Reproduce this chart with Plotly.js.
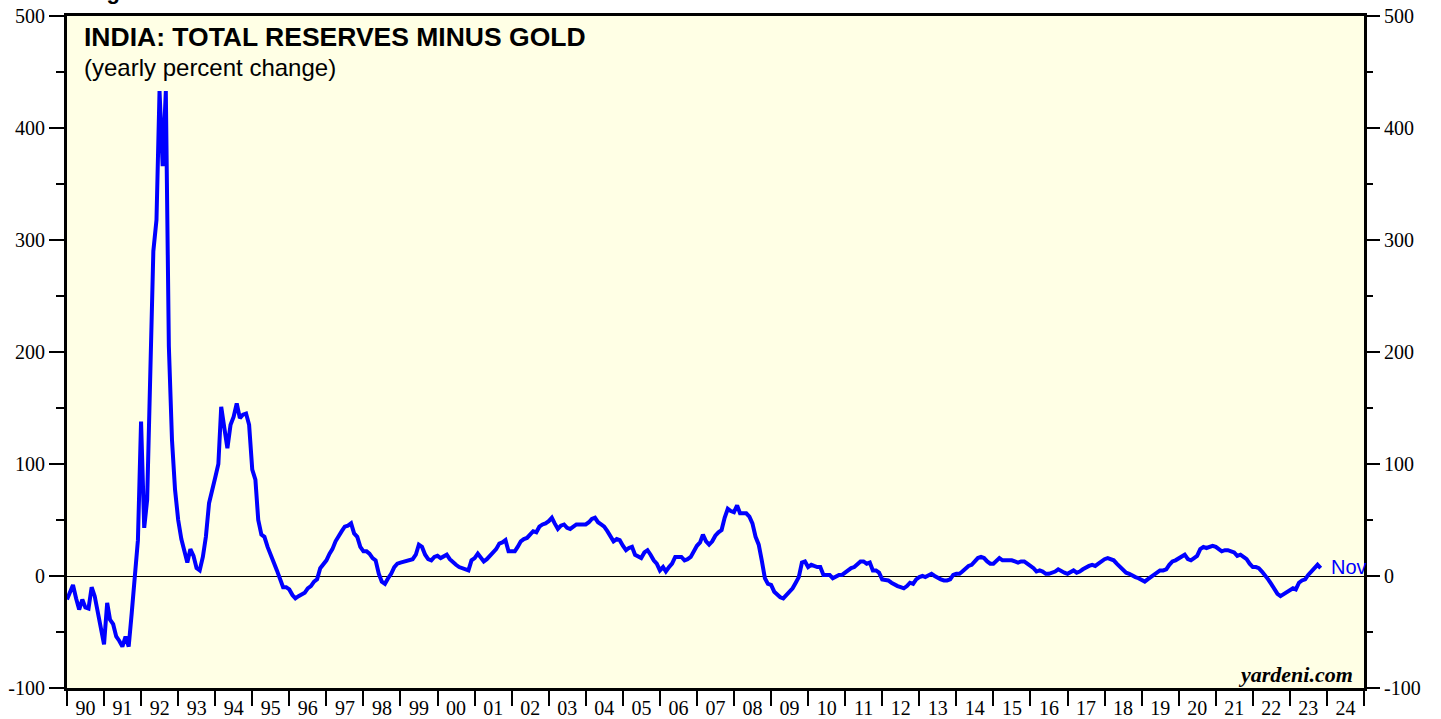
<!DOCTYPE html>
<html>
<head>
<meta charset="utf-8">
<script src="https://cdn.plot.ly/plotly-3.0.1.min.js"></script>
<style>
  html, body { margin: 0; padding: 0; background: #ffffff; }
  #chart { width: 1441px; height: 719px; }
</style>
</head>
<body>
<div id="chart"></div>
<script>
// India: total reserves minus gold, yearly percent change, monthly from Jan 1990 to Nov 2023
const startYear = 1990;
const vals1990s = [
  -21, -15, -8, -20, -30, -21, -28, -29, -10, -18, -33, -45,      // 1990
  -61, -24, -39, -43, -54, -58, -63, -54, -63, -33, 1, 32,         // 1991
  138, 43, 68, 200, 290, 318, 433, 366, 433, 205, 121, 77,        // 1992
  50, 33, 22, 12, 24, 18, 7, 5, 17, 35, 65, 78,                   // 1993
  88, 100, 151, 132, 114, 135, 142, 154, 141, 144, 145, 135,      // 1994
  95, 86, 50, 37, 35, 26, 18, 12, 5, -3, -10, -10,                // 1995
  -12, -17, -20, -18, -16, -15, -11, -9, -5, -3, 7, 11,           // 1996
  14, 20, 24, 31, 36, 40, 44, 45, 47, 38, 35, 26,                 // 1997
  22, 22, 20, 16, 14, 2, -5, -7, -2, 2, 8, 11,                    // 1998
  12, 13, 13, 14, 15, 19, 28, 26, 19, 15, 14, 17                  // 1999
];
const vals2000s = [
  18, 16, 17, 19, 15, 12, 10, 8, 7, 6, 5, 14,                     // 2000
  16, 20, 16, 13, 15, 18, 21, 24, 29, 30, 32, 22,                 // 2001
  22, 22, 26, 31, 33, 34, 37, 40, 39, 44, 46, 47,                 // 2002
  49, 52, 47, 42, 45, 46, 43, 42, 44, 46, 46, 46,                 // 2003
  46, 48, 51, 52, 48, 46, 44, 40, 36, 31, 33, 32,                 // 2004
  27, 23, 25, 26, 19, 17, 16, 21, 23, 19, 14, 11,                 // 2005
  5, 8, 4, 8, 11, 17, 17, 17, 14, 15, 17, 22,                     // 2006
  27, 30, 37, 31, 28, 31, 36, 39, 41, 52, 60, 58,                 // 2007
  57, 63, 56, 56, 56, 53, 47, 35, 28, 14, -2, -7,                 // 2008
  -8, -14, -17, -19, -20, -17, -15, -11, -6, -1, 12, 13           // 2009
];
const vals2010s = [
  8, 10, 9, 8, 8, 1, 1, 1, -2, 0, 1, 1,                           // 2010
  3, 6, 7, 8, 11, 13, 13, 11, 12, 5, 5, 3,                        // 2011
  -3, -4, -4, -6, -8, -9, -10, -11, -9, -6, -7, -3,               // 2012
  -1, 0, -1, 1, 2, 0, -2, -3, -4, -4, -3, 1,                      // 2013
  2, 2, 4, 7, 9, 10, 13, 16, 17, 16, 13, 11,                      // 2014
  11, 14, 16, 14, 14, 14, 14, 13, 12, 13, 13, 11,                 // 2015
  9, 7, 4, 5, 4, 2, 2, 3, 4, 6, 4, 3,                             // 2016
  2, 4, 5, 3, 4, 6, 8, 9, 10, 9, 11, 13,                          // 2017
  15, 16, 15, 14, 11, 8, 5, 3, 2, 0, -1, -2,                      // 2018
  -4, -5, -3, -1, 1, 3, 5, 5, 6, 10, 13, 14                       // 2019
];
const vals2020s = [
  16, 17, 19, 15, 14, 16, 18, 24, 26, 25, 26, 27,                 // 2020
  26, 24, 22, 23, 23, 22, 21, 18, 19, 17, 15, 11,                 // 2021
  8, 8, 7, 4, 1, -3, -7, -12, -16, -18, -16, -14,                 // 2022
  -12, -11, -12, -6, -4, -3, 1, 4, 8, 10, 7                       // 2023 (to Nov)
];
const lastLabel = "Nov";
const yTicks = [-100, 0, 100, 200, 300, 400, 500];
const titleText = "INDIA: TOTAL RESERVES MINUS GOLD";
const subtitleText = "(yearly percent change)";
const sourceText = "yardeni.com";

const values = [].concat(vals1990s, vals2000s, vals2010s, vals2020s);
const dates = values.map((v, i) => {
  const y = startYear + Math.floor(i / 12);
  const m = (i % 12) + 1;
  return y + "-" + String(m).padStart(2, "0") + "-01";
});
const lastDate = dates[dates.length - 1];
const lastVal = values[values.length - 1];

const serif = "Liberation Serif, Times New Roman, serif";
const sans = "Liberation Sans, Arial, Helvetica, sans-serif";

const traces = [
  {
    x: dates, y: values, type: "scatter", mode: "lines",
    line: { color: "#0000ff", width: 4 },
    hoverinfo: "x+y", yaxis: "y"
  },
  {
    x: dates, y: values, type: "scatter", mode: "lines",
    line: { color: "rgba(0,0,0,0)", width: 0 },
    hoverinfo: "skip", yaxis: "y2", showlegend: false
  }
];

const yCommon = {
  range: [-100, 500],
  tickvals: yTicks,
  ticktext: yTicks.map(String),
  ticks: "outside", ticklen: 15, tickwidth: 2, tickcolor: "#000",
  minor: { dtick: 50, tick0: 0, ticks: "outside", ticklen: 8, tickwidth: 2, tickcolor: "#000", showgrid: false },
  showgrid: false,
  tickfont: { family: serif, size: 20, color: "#000" },
  fixedrange: true
};

const layout = {
  width: 1441, height: 719,
  margin: { l: 67, r: 77, t: 16, b: 31, pad: 0 },
  paper_bgcolor: "#ffffff",
  plot_bgcolor: "rgb(255,255,229)",
  showlegend: false,
  xaxis: {
    type: "date",
    range: ["1990-01-01", "2025-01-01"],
    tick0: "1990-01-01", dtick: "M12",
    ticklabelmode: "period",
    tickformat: "%y",
    ticks: "outside", ticklen: 15, tickwidth: 2, tickcolor: "#000",
    ticklabelstandoff: -15,
    showline: true, linewidth: 3, linecolor: "#000", mirror: true,
    showgrid: false, zeroline: false,
    tickfont: { family: serif, size: 20, color: "#000" },
    fixedrange: true
  },
  yaxis: Object.assign({}, yCommon, {
    side: "left",
    showline: true, linewidth: 3, linecolor: "#000", mirror: true,
    zeroline: true, zerolinecolor: "#000", zerolinewidth: 1
  }),
  yaxis2: Object.assign({}, yCommon, {
    overlaying: "y", side: "right",
    showline: false, zeroline: false
  }),
  annotations: [
    {
      text: "Figure 1.", xref: "paper", yref: "paper",
      x: 0.014, y: 1.0149, xanchor: "left", yanchor: "bottom",
      showarrow: false, font: { family: sans, size: 22, color: "#000", weight: "bold" }
    },
    {
      text: "<b>" + titleText + "</b>", xref: "paper", yref: "paper",
      x: 0.0116, y: 0.9688, xanchor: "left", yanchor: "middle",
      showarrow: false, font: { family: sans, size: 26.5, color: "#000" }
    },
    {
      text: subtitleText, xref: "paper", yref: "paper",
      x: 0.0116, y: 0.9241, xanchor: "left", yanchor: "middle",
      showarrow: false, font: { family: sans, size: 24, color: "#000" }
    },
    {
      text: lastLabel, xref: "x", yref: "y",
      x: lastDate, y: lastVal, xanchor: "left", yanchor: "middle",
      xshift: 8, yshift: 1,
      showarrow: false, font: { family: sans, size: 20, color: "#0000ff" }
    },
    {
      text: "<b><i>" + sourceText + "</i></b>", xref: "paper", yref: "paper",
      x: 0.9931, y: 0.0208, xanchor: "right", yanchor: "middle",
      showarrow: false, font: { family: serif, size: 22, color: "#000" }
    }
  ]
};

Plotly.newPlot("chart", traces, layout, { displayModeBar: false, staticPlot: true });
</script>
</body>
</html>
